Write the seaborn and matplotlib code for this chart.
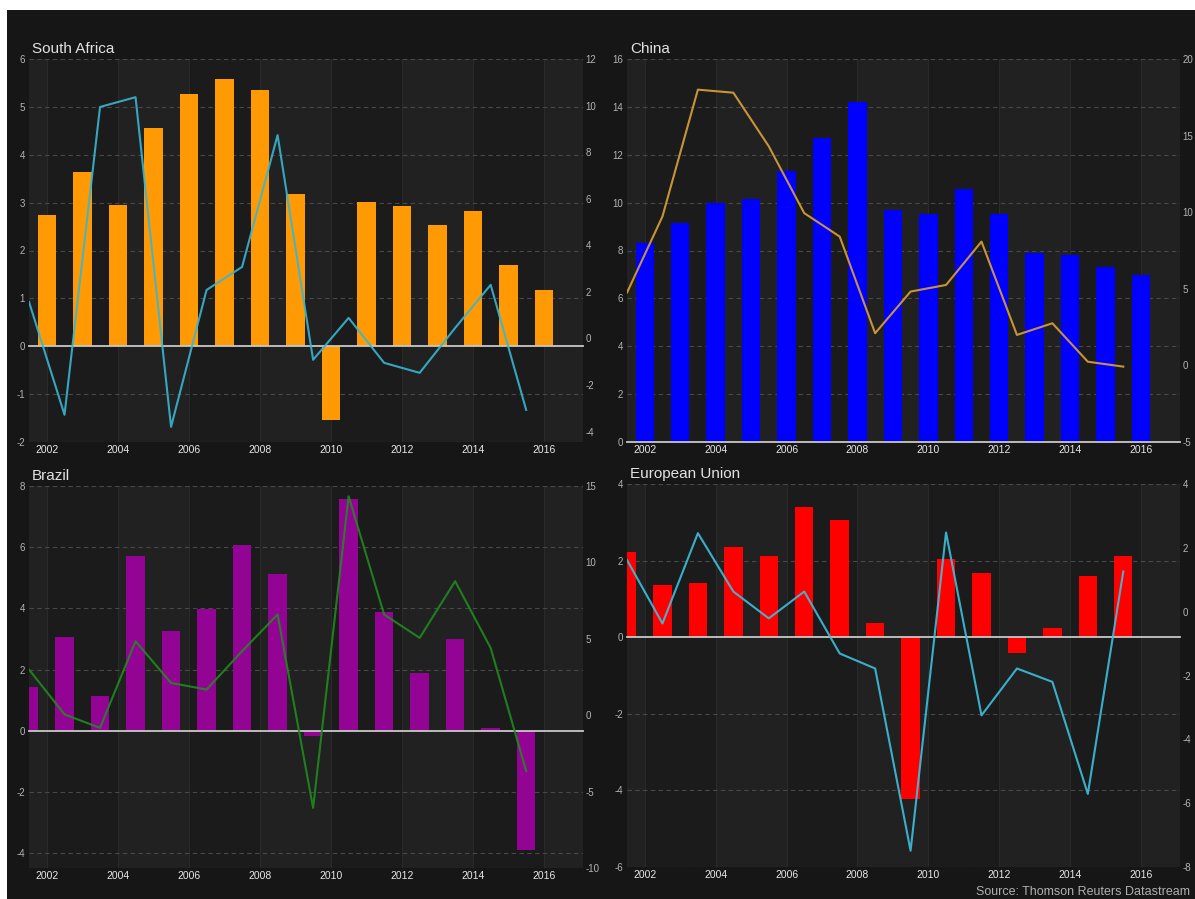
import matplotlib
matplotlib.use("Agg")
import matplotlib.pyplot as plt
from matplotlib.patches import Rectangle
import seaborn as sns

# ---------------- data ----------------
year_ticks = [2002, 2004, 2006, 2008, 2010, 2012, 2014, 2016]
year_labels = ["2002", "2004", "2006", "2008", "2010", "2012", "2014", "2016"]

bar_years_full = [2002, 2003, 2004, 2005, 2006, 2007, 2008, 2009, 2010,
                  2011, 2012, 2013, 2014, 2015, 2016]
mid_years = [2001.5, 2002.5, 2003.5, 2004.5, 2005.5, 2006.5, 2007.5, 2008.5,
             2009.5, 2010.5, 2011.5, 2012.5, 2013.5, 2014.5, 2015.5]

# South Africa
sa_bars = [2.74, 3.65, 2.95, 4.55, 5.27, 5.59, 5.36, 3.18, -1.54, 3.02, 2.93,
           2.53, 2.83, 1.69, 1.18]
sa_line = [1.57, -3.28, 9.94, 10.36, -3.80, 2.08, 3.07, 8.73, -0.92, 0.88,
           -1.05, -1.48, 0.45, 2.30, -3.07]

# China
cn_bars = [8.33, 9.16, 10.0, 10.14, 11.33, 12.72, 14.2, 9.69, 9.51, 10.56,
           9.51, 7.88, 7.81, 7.32, 6.97]
cn_line = [4.75, 9.72, 18.0, 17.8, 14.3, 9.94, 8.41, 2.1, 4.82, 5.25, 8.08,
           1.99, 2.75, 0.24, -0.08]

# Brazil
br_bars = [1.43, 3.05, 1.12, 5.72, 3.27, 3.99, 6.08, 5.13, -0.16, 7.57, 3.88,
           1.89, 3.0, 0.08, -3.89]
br_line = [2.99, 0.05, -0.83, 4.84, 2.11, 1.68, 4.19, 6.59, -6.07, 14.33,
           6.59, 5.06, 8.77, 4.40, -3.66]

# European Union
eu_bars = [2.22, 1.35, 1.42, 2.35, 2.13, 3.40, 3.07, 0.36, -4.23, 2.04, 1.68,
           -0.41, 0.24, 1.59, 2.11]
eu_line = [1.62, -0.37, 2.46, 0.63, -0.21, 0.63, -1.31, -1.78, -7.49, 2.48,
           -3.25, -1.78, -2.20, -5.71, 1.26]

# ---------------- style ----------------
plt.rcParams['font.family'] = ['Liberation Sans', 'DejaVu Sans']

W, H = 1195, 899
fig = plt.figure(figsize=(W / 100, H / 100), dpi=100, facecolor='white')
fig.patches.append(Rectangle((7 / W, 0), 1 - 7 / W, 1 - 10 / H,
                             transform=fig.transFigure, facecolor='#161616',
                             edgecolor='none', zorder=-10))


def px_axes(x0, y0, x1, y1):
    return fig.add_axes([x0 / W, 1 - y1 / H, (x1 - x0) / W, (y1 - y0) / H])


def panel(ax, title, bx, by, bcolor, lx, ly, lcolor,
          ylim_l, yticks_l, ylim_r, yticks_r):
    ax.set_facecolor('#1b1b1b')
    for s in [2000, 2004, 2008, 2012, 2016]:
        ax.axvspan(s, s + 2, color='#212121', lw=0, zorder=0)
    for yr in year_ticks:
        ax.axvline(yr, color='#2a2a2a', lw=0.8, zorder=0.5)
    for t in yticks_l:
        if t != 0:
            ax.axhline(t, color='#484848', lw=0.8, ls=(0, (4, 3)), zorder=0.6)
    sns.barplot(x=bx, y=by, native_scale=True, color=bcolor, saturation=1,
                width=0.52, errorbar=None, ax=ax, zorder=2)
    ax.axhline(0, color='#c8c8c8', lw=1.3, zorder=3, clip_on=False)
    ax.set_xlim(2001.5, 2017.1)
    ax.set_ylim(*ylim_l)
    ax.set_yticks(yticks_l)
    ax.set_yticklabels([str(t) for t in yticks_l])
    ax.set_xticks(year_ticks)
    ax.set_xticklabels(year_labels)
    ax.set_xlabel('')
    ax.set_ylabel('')
    ax.tick_params(axis='x', length=0, pad=2, labelsize=7.5, labelcolor='#e8e8e8')
    ax.tick_params(axis='y', length=0, pad=3, labelsize=7, labelcolor='#b4b4b4')
    for sp in ax.spines.values():
        sp.set_visible(False)

    ax2 = ax.twinx()
    sns.lineplot(x=lx, y=ly, color=lcolor, lw=1.5, alpha=0.9, ax=ax2,
                 zorder=4)
    ax2.set_ylim(*ylim_r)
    ax2.set_yticks(yticks_r)
    ax2.set_yticklabels([str(t) for t in yticks_r])
    ax2.set_ylabel('')
    ax2.tick_params(axis='y', length=0, pad=2, labelsize=7, labelcolor='#b4b4b4')
    for sp in ax2.spines.values():
        sp.set_visible(False)

    ax.annotate(title, xy=(0, 1), xycoords='axes fraction', xytext=(3, 6),
                textcoords='offset pixels', ha='left', va='baseline',
                fontsize=11, color='#e2e2e2')


ax_sa = px_axes(29, 59, 583, 442)
panel(ax_sa, 'South Africa', bar_years_full, sa_bars, '#ff9a05',
      mid_years, sa_line, '#38b6d2',
      (-2, 6), [-2, -1, 0, 1, 2, 3, 4, 5, 6],
      (-4.45, 12), [-4, -2, 0, 2, 4, 6, 8, 10, 12])

ax_cn = px_axes(627, 59, 1180, 442)
panel(ax_cn, 'China', bar_years_full, cn_bars, '#0000ff',
      mid_years, cn_line, '#dba238',
      (0, 16), [0, 2, 4, 6, 8, 10, 12, 14, 16],
      (-5, 20), [-5, 0, 5, 10, 15, 20])

ax_br = px_axes(29, 486, 583, 868)
panel(ax_br, 'Brazil', mid_years, br_bars, '#940494',
      mid_years, br_line, '#1f8a1f',
      (-4.49, 8), [-4, -2, 0, 2, 4, 6, 8],
      (-10, 15), [-10, -5, 0, 5, 10, 15])

ax_eu = px_axes(627, 484, 1180, 867)
panel(ax_eu, 'European Union', mid_years, eu_bars, '#ff0000',
      mid_years, eu_line, '#3cc0de',
      (-6, 4), [-6, -4, -2, 0, 2, 4],
      (-8, 4), [-8, -6, -4, -2, 0, 2, 4])

fig.text(1190 / W, 1 - 895 / H, 'Source: Thomson Reuters Datastream',
         ha='right', va='baseline', fontsize=9, color='#b0b0b0')

fig.savefig('out.png', dpi=100, facecolor=fig.get_facecolor())
